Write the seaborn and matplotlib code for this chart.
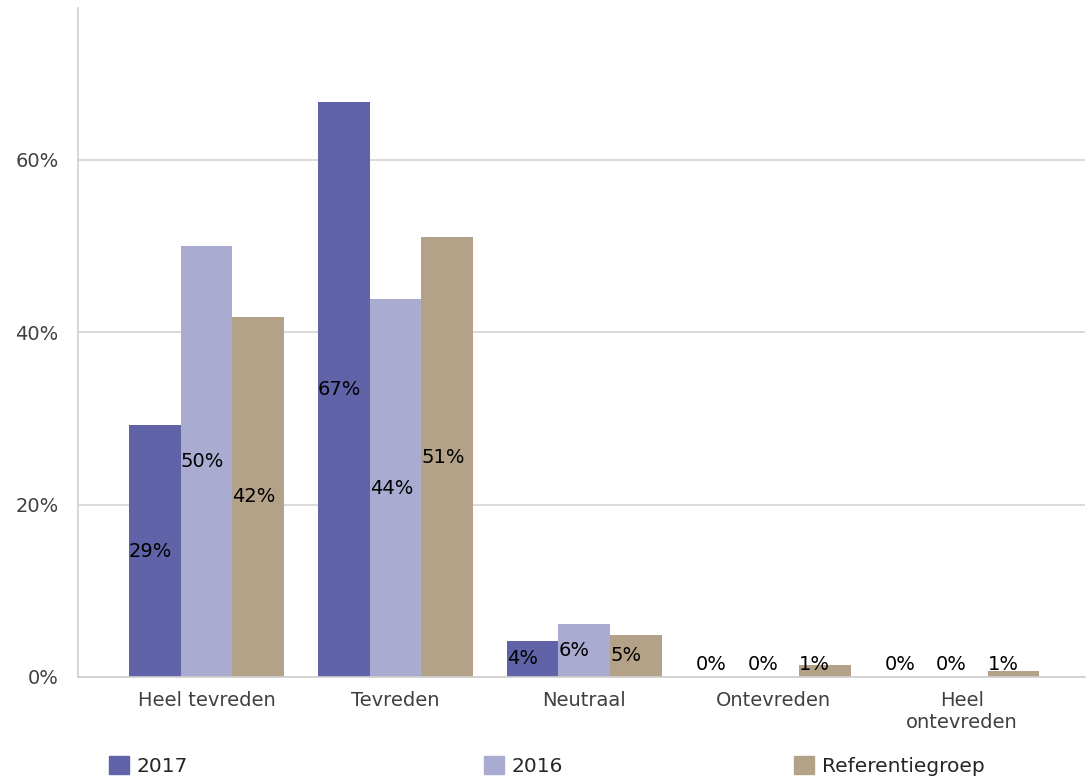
import pandas as pd
import seaborn as sns
import matplotlib.pyplot as plt
from matplotlib.ticker import FuncFormatter

# answer categories and series (percentages)
categories = ['Heel tevreden', 'Tevreden', 'Neutraal', 'Ontevreden', 'Heel\nontevreden']
series = ['2017', '2016', 'Referentiegroep']
vals_2017 = [29.2, 66.7, 4.2, 0.0, 0.0]
vals_2016 = [50.0, 43.8, 6.2, 0.0, 0.0]
vals_ref = [41.8, 51.0, 4.9, 1.4, 0.7]
colors = ['#6063a8', '#a9abd1', '#b3a188']

df = pd.DataFrame({
    'cat': categories * 3,
    'groep': [s for s in series for _ in categories],
    'pct': vals_2017 + vals_2016 + vals_ref,
})

sns.set_style("white")
plt.rcParams['font.family'] = ['DejaVu Sans']

fig = plt.figure(figsize=(10.87, 7.79), dpi=100)
ax = fig.add_axes([0.0718, 0.131, 0.9262, 0.8587])

sns.barplot(data=df, x='cat', y='pct', hue='groep', order=categories,
            hue_order=series, palette=colors, width=0.82, saturation=1,
            linewidth=0, ax=ax, legend=False)

ax.set_ylim(0, 77.6)
ax.set_xlim(-0.68, 4.65)
ax.set_yticks([0, 20, 40, 60])
ax.yaxis.set_major_formatter(FuncFormatter(lambda v, p: '{:.0f}%'.format(v)))
ax.yaxis.grid(True, color='#d4d4d4', linewidth=1.2)
ax.set_axisbelow(True)
ax.set_xlabel('')
ax.set_ylabel('')
ax.tick_params(axis='y', length=0, pad=14, labelsize=14, labelcolor='#404040')
ax.tick_params(axis='x', length=0, pad=10, labelsize=14, labelcolor='#404040')
for sp in ['top', 'right']:
    ax.spines[sp].set_visible(False)
for sp in ['left', 'bottom']:
    ax.spines[sp].set_color('#d0d0d0')
    ax.spines[sp].set_linewidth(1.2)

# value labels, left aligned at bar edge, at half height
for cont in ax.containers:
    for bar, v in zip(cont, cont.datavalues):
        y = max(v / 2, 1.5)
        ax.text(bar.get_x(), y, '{:.0f}%'.format(v), ha='left', va='center',
                fontsize=14, color='black')

# legend entries along the bottom
handles = [plt.Rectangle((0, 0), 1, 1, color=c) for c in colors]
xpos = [0.100, 0.445, 0.730]
for h, s, x in zip(handles, series, xpos):
    fig.legend([h], [s], loc='center left', bbox_to_anchor=(x, 0.017),
               frameon=False, fontsize=14.5, handlelength=1.0, handleheight=1.0,
               handletextpad=0.4, borderpad=0, borderaxespad=0)

fig.savefig('out.png', dpi=100)
